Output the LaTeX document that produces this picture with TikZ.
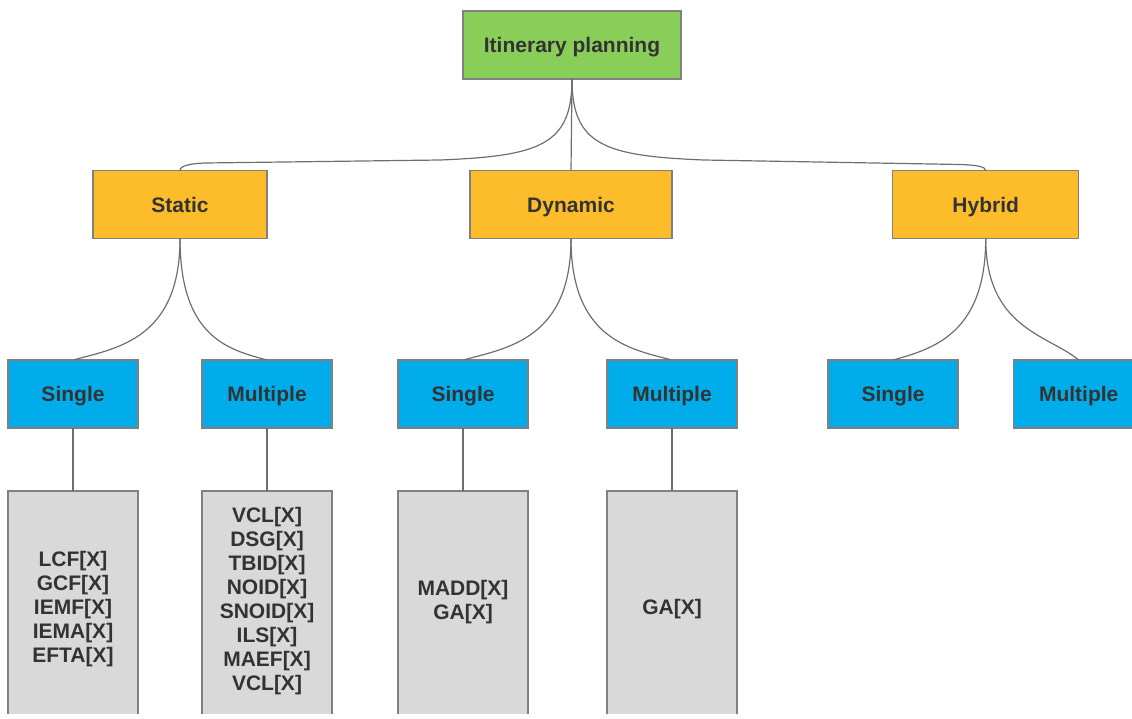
\documentclass[tikz,border=0pt]{standalone}
\usepackage{fontspec}
\setmainfont{Liberation Sans}
\usetikzlibrary{calc}
\definecolor{rootgreen}{HTML}{8ACE5A}
\definecolor{catorange}{HTML}{FDBD2A}
\definecolor{leafblue}{HTML}{00ADEA}
\definecolor{listgray}{HTML}{D9D9D9}
\definecolor{edgegray}{HTML}{808080}
\definecolor{linkgray}{HTML}{6E6E6E}
\definecolor{inkgray}{HTML}{333333}

\begin{document}
\begin{tikzpicture}[x=1pt,y=-1pt,
  box/.style={draw=edgegray, line width=1.3pt, inner sep=0pt, outer sep=0pt,
    minimum height=68pt, text=inkgray,
    font=\fontsize{21}{24}\selectfont\bfseries, text height=19pt, text depth=4pt},
  rootbox/.style={box, fill=rootgreen, minimum width=218pt},
  catbox/.style={box, fill=catorange},
  subbox/.style={box, fill=leafblue, minimum width=130pt},
  listbox/.style={draw=edgegray, line width=1.3pt, fill=listgray,
    minimum width=130pt, minimum height=260pt, inner sep=0pt, outer sep=0pt,
    anchor=north},
  listtext/.style={text=inkgray, font=\fontsize{21}{24.1}\selectfont\bfseries,
    align=center, inner sep=0pt},
  link/.style={draw=linkgray, line width=1.2pt}
]
\useasboundingbox (0,0) rectangle (1132,718);
\begin{scope}
\clip (0,0) rectangle (1132,713);

% root
\node[rootbox] (root) at (572,45) {Itinerary planning};

% categories
\node[catbox, minimum width=174pt] (static)  at (180,204.5)   {Static};
\node[catbox, minimum width=202pt] (dynamic) at (571,204.5)   {Dynamic};
\node[catbox, minimum width=186pt] (hybrid)  at (985.7,204.5) {Hybrid};

% single / multiple
\node[subbox] (ss) at (73,394)     {Single};
\node[subbox] (sm) at (267,394)    {Multiple};
\node[subbox] (ds) at (463,394)    {Single};
\node[subbox] (dm) at (672,394)    {Multiple};
\node[subbox] (hs) at (893,394)    {Single};
\node[subbox] (hm) at (1078.7,394) {Multiple};

% method lists
\node[listbox] (ssl) at (73,491)  {};
\node[listbox] (sml) at (267,491) {};
\node[listbox] (dsl) at (463,491) {};
\node[listbox] (dml) at (672,491) {};

\node[listtext] (sslt) at (73,609)  {LCF[X]\\GCF[X]\\IEMF[X]\\IEMA[X]\\EFTA[X]};
\node[listtext] (smlt) at (267,601) {VCL[X]\\DSG[X]\\TBID[X]\\NOID[X]\\SNOID[X]\\ILS[X]\\MAEF[X]\\VCL[X]};
\node[listtext] (dslt) at (463,602) {MADD[X]\\GA[X]};
\node[listtext] (dmlt) at (672,609) {GA[X]};

% bends of the top-level connectors
\coordinate (sA) at (440,160);
\coordinate (sB) at (205,163);
\coordinate (hA) at (704,160);
\coordinate (hB) at (960,164.5);

% root to categories
\draw[link] (root.south) .. controls +(0,66) and +(100,-4) .. (sA) -- (sB)
  .. controls +(-14,0.5) and +(0,-5) .. (static.north);
\draw[link] (root.south) -- (dynamic.north);
\draw[link] (root.south) .. controls +(0,66) and +(-100,-4) .. (hA) -- (hB)
  .. controls +(16,0.5) and +(0,-4) .. (hybrid.north);

% categories to single / multiple
\draw[link] (static.south)  .. controls +(0,100) and +(45,-12)  .. (ss.north);
\draw[link] (static.south)  .. controls +(0,100) and +(-37,-10) .. (sm.north);
\draw[link] (dynamic.south) .. controls +(0,100) and +(45,-12)  .. (ds.north);
\draw[link] (dynamic.south) .. controls +(0,100) and +(-43,-11) .. (dm.north);
\draw[link] (hybrid.south)  .. controls +(0,95)  and +(40,-11)  .. (hs.north);
\draw[link] (hybrid.south)  .. controls +(0,90)  and +(-30,-25) .. (hm.north);

% single / multiple to lists
\draw[link] (ss.south) -- (ssl.north);
\draw[link] (sm.south) -- (sml.north);
\draw[link] (ds.south) -- (dsl.north);
\draw[link] (dm.south) -- (dml.north);
\end{scope}
\end{tikzpicture}
\end{document}
